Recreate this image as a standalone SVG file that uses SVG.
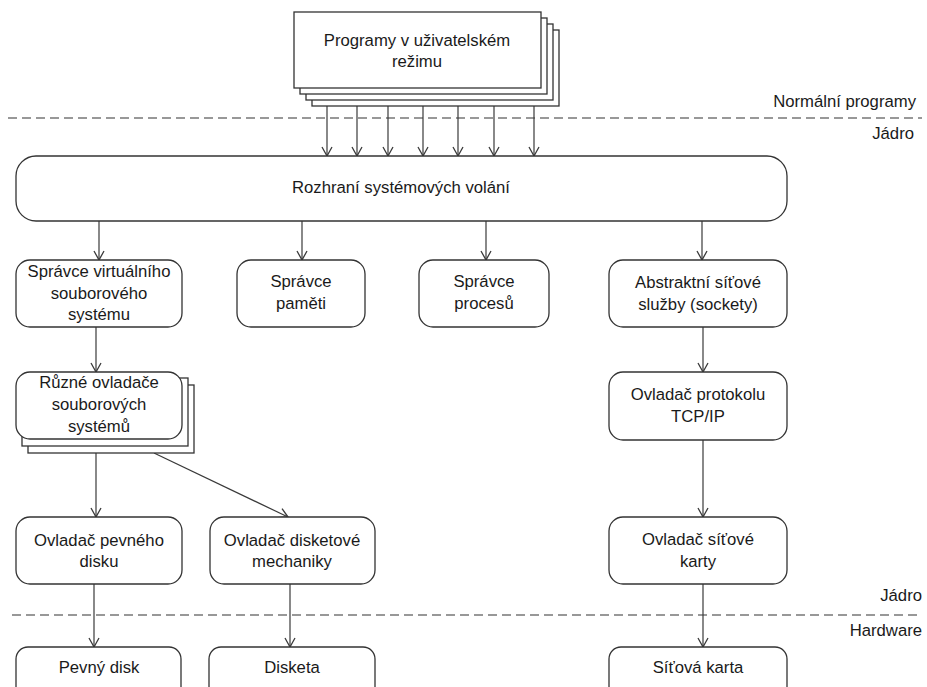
<svg xmlns="http://www.w3.org/2000/svg" width="927" height="687" viewBox="0 0 927 687">
  <style>
    .box { fill: #ffffff; stroke: #333333; stroke-width: 1.3; }
    .sheet { fill: #ffffff; stroke: #333333; stroke-width: 1.3; }
    .edge { fill: none; stroke: #3a3a3a; stroke-width: 1.2; }
    .divider { fill: none; stroke: #777777; stroke-width: 1.4; stroke-dasharray: 9 5; }
    text { font-family: "Liberation Sans", Arial, sans-serif; font-size: 16.7px; fill: #1a1a1a; }
    .c { text-anchor: middle; }
    .r { text-anchor: end; }
  </style>
  <defs>
    <marker id="arrow" viewBox="0 0 12 12" markerWidth="12" markerHeight="12" refX="11" refY="6" orient="auto" markerUnits="userSpaceOnUse">
      <path d="M2,1 L11,6 L2,11" fill="none" stroke="#3a3a3a" stroke-width="1.3"/>
    </marker>
  </defs>

  <rect width="927" height="687" fill="#ffffff"/>

  <!-- layer boundaries -->
  <g id="dividers">
    <line class="divider" x1="8" y1="118" x2="922" y2="118"/>
    <line class="divider" x1="12" y1="615" x2="922" y2="615"/>
    <text class="r" x="916" y="107">Normální programy</text>
    <text class="r" x="914" y="139">Jádro</text>
    <text class="r" x="922" y="601">Jádro</text>
    <text class="r" x="922" y="636">Hardware</text>
  </g>

  <!-- connectors -->
  <g id="connectors">
    <line class="edge" x1="327" y1="106" x2="327" y2="156" marker-end="url(#arrow)"/>
    <line class="edge" x1="357" y1="106" x2="357" y2="156" marker-end="url(#arrow)"/>
    <line class="edge" x1="388" y1="106" x2="388" y2="156" marker-end="url(#arrow)"/>
    <line class="edge" x1="423" y1="106" x2="423" y2="156" marker-end="url(#arrow)"/>
    <line class="edge" x1="458" y1="106" x2="458" y2="156" marker-end="url(#arrow)"/>
    <line class="edge" x1="494" y1="106" x2="494" y2="156" marker-end="url(#arrow)"/>
    <line class="edge" x1="534" y1="106" x2="534" y2="156" marker-end="url(#arrow)"/>

    <line class="edge" x1="99" y1="221" x2="99" y2="260" marker-end="url(#arrow)"/>
    <line class="edge" x1="302" y1="221" x2="302" y2="260" marker-end="url(#arrow)"/>
    <line class="edge" x1="486" y1="221" x2="486" y2="260" marker-end="url(#arrow)"/>
    <line class="edge" x1="702" y1="221" x2="702" y2="260" marker-end="url(#arrow)"/>

    <line class="edge" x1="96" y1="327" x2="96" y2="372" marker-end="url(#arrow)"/>
    <line class="edge" x1="96" y1="453" x2="96" y2="517" marker-end="url(#arrow)"/>
    <line class="edge" x1="154" y1="453" x2="288" y2="517" marker-end="url(#arrow)"/>
    <line class="edge" x1="94" y1="584" x2="94" y2="647" marker-end="url(#arrow)"/>
    <line class="edge" x1="290" y1="584" x2="290" y2="647" marker-end="url(#arrow)"/>

    <line class="edge" x1="703" y1="327" x2="703" y2="372" marker-end="url(#arrow)"/>
    <line class="edge" x1="703" y1="440" x2="703" y2="517" marker-end="url(#arrow)"/>
    <line class="edge" x1="703" y1="584" x2="703" y2="647" marker-end="url(#arrow)"/>
  </g>

  <!-- user-mode programs (stack of sheets) -->
  <g id="user-programs">
    <rect class="sheet" x="312" y="30" width="247" height="76"/>
    <rect class="sheet" x="306" y="24" width="247" height="76"/>
    <rect class="sheet" x="300" y="18" width="247" height="76"/>
    <rect class="sheet" x="294" y="12" width="247" height="76"/>
    <text class="c" x="417" y="46">Programy v uživatelském</text>
    <text class="c" x="417" y="67">režimu</text>
  </g>

  <g id="syscall-interface">
    <rect class="box" x="16" y="156" width="771" height="65" rx="20" ry="20"/>
    <text class="c" x="401" y="193">Rozhraní systémových volání</text>
  </g>

  <g id="vfs">
    <rect class="box" x="16" y="260" width="166" height="67" rx="14" ry="14"/>
    <text class="c" x="99" y="277">Správce virtuálního</text>
    <text class="c" x="99" y="299">souborového</text>
    <text class="c" x="99" y="320">systému</text>
  </g>

  <g id="memory-manager">
    <rect class="box" x="237" y="260" width="128" height="67" rx="14" ry="14"/>
    <text class="c" x="301" y="287">Správce</text>
    <text class="c" x="301" y="309">paměti</text>
  </g>

  <g id="process-manager">
    <rect class="box" x="419" y="260" width="130" height="67" rx="14" ry="14"/>
    <text class="c" x="484" y="287">Správce</text>
    <text class="c" x="484" y="309">procesů</text>
  </g>

  <g id="sockets">
    <rect class="box" x="609" y="260" width="178" height="67" rx="14" ry="14"/>
    <text class="c" x="698" y="288">Abstraktní síťové</text>
    <text class="c" x="698" y="310">služby (sockety)</text>
  </g>

  <g id="fs-drivers">
    <rect class="sheet" x="28" y="385" width="166" height="68"/>
    <rect class="sheet" x="22" y="378" width="166" height="68"/>
    <rect class="box" x="16" y="372" width="166" height="67" rx="14" ry="14"/>
    <text class="c" x="99" y="388">Různé ovladače</text>
    <text class="c" x="99" y="410">souborových</text>
    <text class="c" x="99" y="432">systémů</text>
  </g>

  <g id="tcpip">
    <rect class="box" x="609" y="372" width="178" height="68" rx="14" ry="14"/>
    <text class="c" x="698" y="400">Ovladač protokolu</text>
    <text class="c" x="698" y="422">TCP/IP</text>
  </g>

  <g id="hdd-driver">
    <rect class="box" x="16" y="517" width="166" height="67" rx="14" ry="14"/>
    <text class="c" x="99" y="546">Ovladač pevného</text>
    <text class="c" x="99" y="567">disku</text>
  </g>

  <g id="floppy-driver">
    <rect class="box" x="210" y="517" width="165" height="67" rx="14" ry="14"/>
    <text class="c" x="292" y="546">Ovladač disketové</text>
    <text class="c" x="292" y="567">mechaniky</text>
  </g>

  <g id="nic-driver">
    <rect class="box" x="609" y="517" width="178" height="67" rx="14" ry="14"/>
    <text class="c" x="698" y="545">Ovladač síťové</text>
    <text class="c" x="698" y="567">karty</text>
  </g>

  <g id="hard-disk">
    <rect class="box" x="16" y="647" width="165" height="60" rx="12" ry="12"/>
    <text class="c" x="99" y="673">Pevný disk</text>
  </g>

  <g id="floppy">
    <rect class="box" x="209" y="647" width="166" height="60" rx="12" ry="12"/>
    <text class="c" x="292" y="673">Disketa</text>
  </g>

  <g id="network-card">
    <rect class="box" x="609" y="647" width="178" height="60" rx="12" ry="12"/>
    <text class="c" x="698" y="673">Síťová karta</text>
  </g>
</svg>
